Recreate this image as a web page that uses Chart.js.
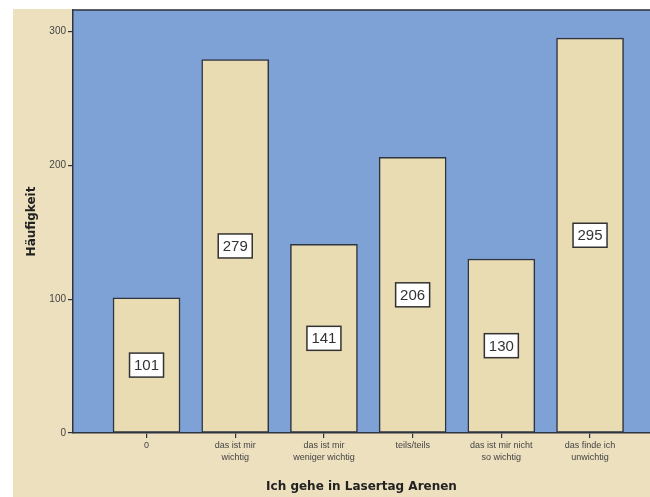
<!DOCTYPE html>
<html>
<head>
<meta charset="utf-8">
<script src="https://cdn.jsdelivr.net/npm/chart.js@4/dist/chart.umd.min.js"></script>
<style>
  html, body { margin: 0; padding: 0; background: #fff; }
  #wrap { width: 650px; height: 497px; }
</style>
</head>
<body>
<div id="wrap"><canvas id="chart" width="650" height="497"></canvas></div>
<script>
var categories = ['0', ['das ist mir', 'wichtig'], ['das ist mir', 'weniger wichtig'], 'teils/teils', ['das ist mir nicht', 'so wichtig'], ['das finde ich', 'unwichtig']];
var counts = [101, 279, 141, 206, 130, 295];
var yTicks = [0, 100, 200, 300];

var BLUE = 'rgb(126,161,214)';
var BEIGE = 'rgb(236,224,190)';
var BAR = 'rgb(233,219,178)';
var DARK = '#2e3440';

// page background + blue plot area + top border
var backdrop = {
	id: 'backdrop',
	beforeDraw: function (chart) {
		var ctx = chart.ctx, a = chart.chartArea;
		ctx.save();
		ctx.fillStyle = '#fff';
		ctx.fillRect(0, 0, chart.width, chart.height);
		ctx.fillStyle = BEIGE;
		ctx.fillRect(13, 9, chart.width - 13, chart.height - 9);
		ctx.fillStyle = BLUE;
		ctx.fillRect(a.left, a.top, a.right - a.left, a.bottom - a.top);
		ctx.strokeStyle = DARK;
		ctx.lineWidth = 1.5;
		ctx.beginPath();
		ctx.moveTo(a.left, a.top);
		ctx.lineTo(a.right, a.top);
		ctx.stroke();
		ctx.restore();
	}
};

// white boxes with the counts in the middle of each bar
var valueBoxes = {
	id: 'valueBoxes',
	afterDatasetsDraw: function (chart) {
		var ctx = chart.ctx;
		var meta = chart.getDatasetMeta(0);
		ctx.save();
		ctx.font = '15px "Liberation Sans", Arial, sans-serif';
		ctx.textAlign = 'center';
		ctx.textBaseline = 'middle';
		meta.data.forEach(function (bar, i) {
			var p = bar.getProps(['x', 'y', 'base'], true);
			var cy = (p.y + p.base) / 2;
			var w = 34, h = 24;
			ctx.fillStyle = '#fff';
			ctx.fillRect(p.x - w / 2, cy - h / 2, w, h);
			ctx.strokeStyle = '#333';
			ctx.lineWidth = 1.5;
			ctx.strokeRect(p.x - w / 2, cy - h / 2, w, h);
			ctx.fillStyle = '#333';
			ctx.fillText(String(counts[i]), p.x, cy + 1);
		});
		ctx.restore();
	}
};

var points = counts.map(function (v, i) { return { x: i, y: v }; });

var chart = new Chart(document.getElementById('chart'), {
	type: 'bar',
	data: {
		datasets: [{
			data: points,
			backgroundColor: BAR,
			borderColor: DARK,
			borderWidth: 1.5,
			borderSkipped: false,
			barThickness: 67
		}]
	},
	options: {
		responsive: false,
		animation: false,
		layout: { padding: { top: 10, right: 0, bottom: 0, left: 0 } },
		plugins: { legend: { display: false }, tooltip: { enabled: false } },
		scales: {
			x: {
				type: 'linear',
				offset: false,
				min: -0.829,
				max: 5.676,
				afterBuildTicks: function (scale) {
					scale.ticks = categories.map(function (c, i) { return { value: i }; });
				},
				afterFit: function (scale) { scale.height = 64; },
				ticks: {
					autoSkip: false,
					maxRotation: 0,
					padding: 2,
					color: '#444',
					font: { family: '"Liberation Sans", Arial, sans-serif', size: 9, lineHeight: 1.3 },
					callback: function (value) { return categories[value]; }
				},
				grid: { offset: false, drawOnChartArea: false, drawTicks: true, tickLength: 5, color: DARK, lineWidth: 1.2 },
				border: { display: true, color: DARK, width: 1.5 },
				title: {
					display: true,
					text: 'Ich gehe in Lasertag Arenen',
					color: '#222',
					font: { family: '"DejaVu Sans", sans-serif', size: 12, weight: 'bold' },
					padding: { top: 0, bottom: 3 }
				}
			},
			y: {
				min: 0,
				max: 316,
				afterBuildTicks: function (scale) {
					scale.ticks = yTicks.map(function (v) { return { value: v }; });
				},
				afterFit: function (scale) { scale.width = 73; },
				ticks: {
					padding: 2,
					color: '#444',
					font: { family: '"Liberation Sans", Arial, sans-serif', size: 10 }
				},
				grid: { drawOnChartArea: false, drawTicks: true, tickLength: 5, color: DARK, lineWidth: 1.2 },
				border: { display: true, color: DARK, width: 1.5 },
				title: {
					display: true,
					text: 'Häufigkeit',
					color: '#222',
					font: { family: '"DejaVu Sans", sans-serif', size: 12, weight: 'bold' },
					padding: { top: 25, bottom: 0 }
				}
			}
		}
	},
	plugins: [backdrop, valueBoxes]
});
</script>
</body>
</html>
